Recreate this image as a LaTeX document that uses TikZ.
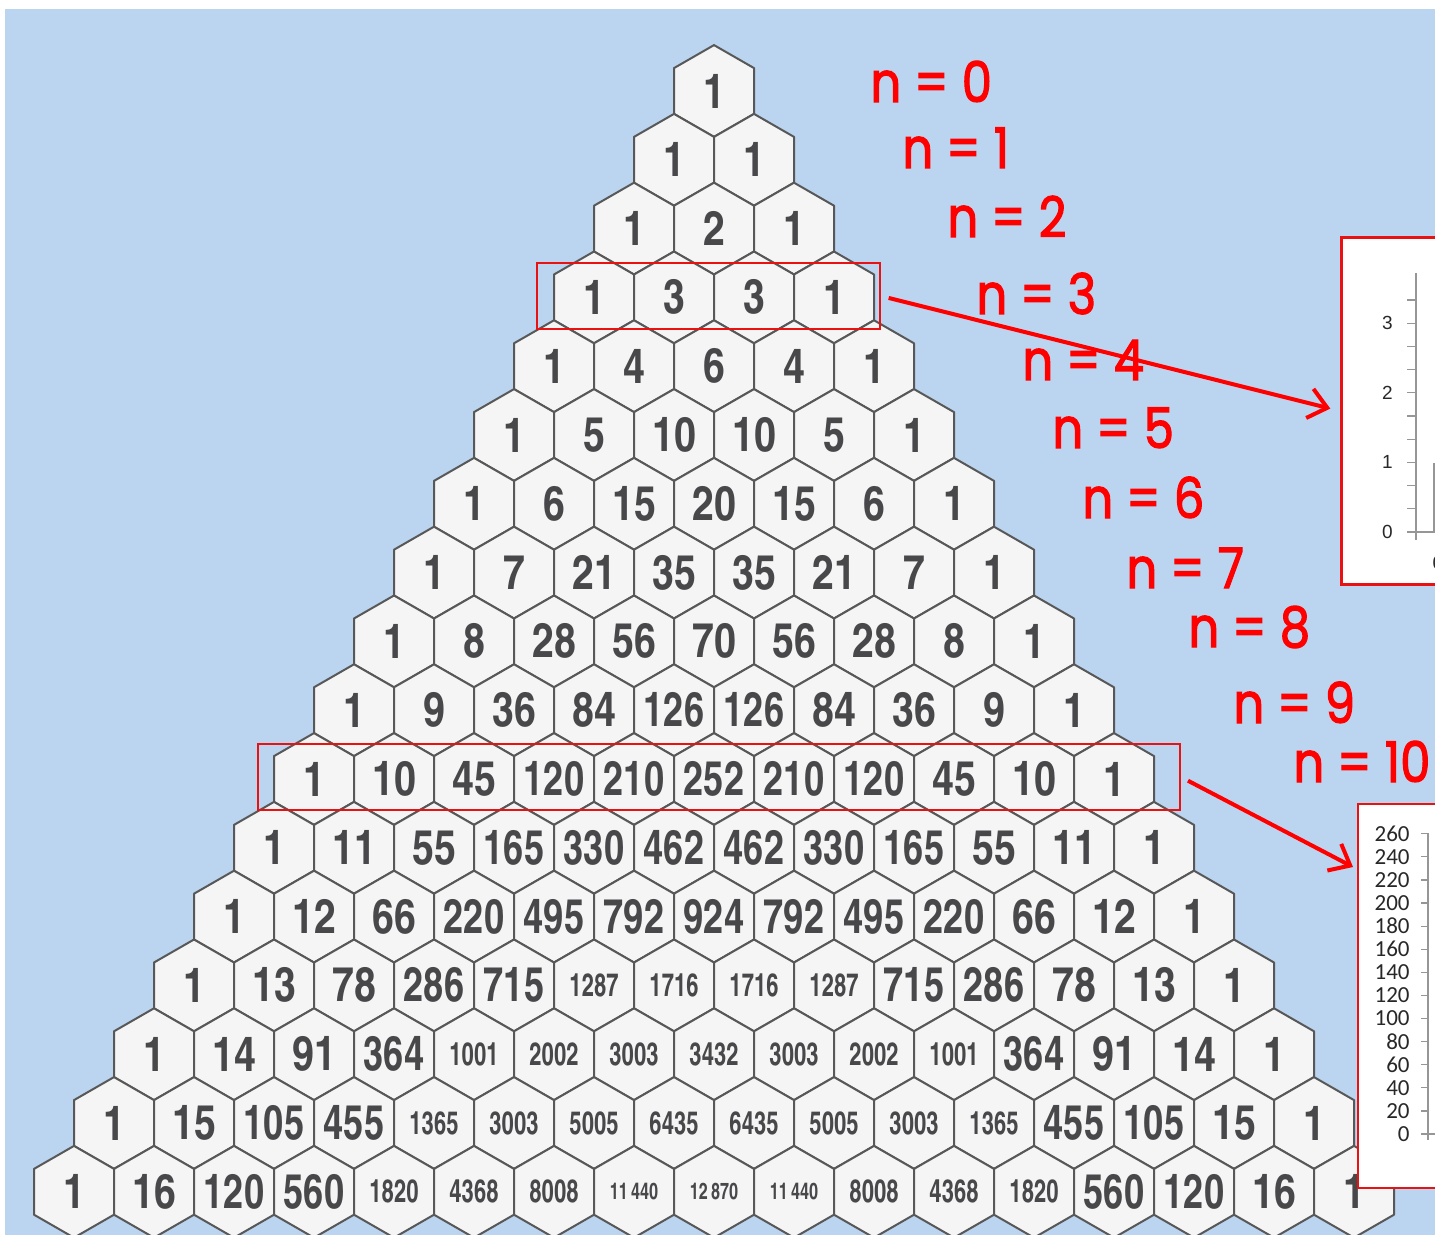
\documentclass[tikz,border=0pt]{standalone}
\usepackage{fontspec}
\usepackage{graphicx}
\usetikzlibrary{arrows.meta,calc}
\newfontfamily\hexfont{texgyreheroscn-bold.otf}
\newfontfamily\labfont{Poppins}[FakeBold=2.2]
\newfontfamily\axfontA{Liberation Sans}
\newfontfamily\axfontB{Carlito}
\definecolor{bgblue}{RGB}{187,212,239}
\definecolor{hexfill}{RGB}{245,245,246}
\definecolor{hexline}{RGB}{88,88,88}
\definecolor{numgray}{RGB}{72,72,74}
\definecolor{labred}{RGB}{255,0,0}
\definecolor{boxred}{RGB}{232,18,18}
\definecolor{axisgray}{RGB}{150,150,150}
\definecolor{axtext}{RGB}{40,40,40}
\newcommand\hexnum[1]{%
  \ifnum#1>9999
    {\fontsize{11.5}{11.5}\selectfont\scalebox{0.86}[1]{\the\numexpr(#1-500)/1000\relax\,\the\numexpr#1-1000*((#1-500)/1000)\relax}}%
  \else\ifnum#1>999
    {\fontsize{16}{16}\selectfont\scalebox{0.84}[1]{#1}}%
  \else\ifnum#1>99
    {\fontsize{24}{24}\selectfont\scalebox{0.92}[1]{#1}}%
  \else
    {\fontsize{24}{24}\selectfont #1}%
  \fi\fi\fi}
\newcommand\nlabtext[1]{\scalebox{0.86}[1]{#1}}
\begin{document}
\begin{tikzpicture}[x=0.5pt,y=-0.5pt,
  hexcell/.style={draw=hexline,fill=hexfill,line width=1pt,line join=round},
  num/.style={inner sep=0pt,text=numgray,font=\hexfont},
  redrect/.style={draw=boxred,line width=0.9pt,inner sep=0pt,minimum height=33pt},
  chartbox/.style={draw=boxred,fill=white,inner sep=0pt,anchor=north west},
  redarrow/.style={draw=labred,line width=2pt,-{Straight Barb[length=9pt,width=15pt]}},
  nlab/.style={anchor=base west,inner sep=0pt,text=labred,font=\labfont\fontsize{28}{28}\selectfont},
  axl/.style={axisgray,line width=0.6pt},
  axtA/.style={anchor=east,inner sep=0pt,text=axtext,font=\axfontA\fontsize{9.5}{9.5}\selectfont},
  axtB/.style={anchor=east,inner sep=0pt,text=axtext,font=\axfontB\fontsize{11.5}{11.5}\selectfont}]
\useasboundingbox (0,0) rectangle (1435,1235);
\clip (0,0) rectangle (1435,1235);
\fill[white] (0,0) rectangle (1435,1235);
\fill[bgblue] (5,9) rectangle (1435,1235);
% Pascal triangle
\foreach \r/\vals in {
  0/{1},
  1/{1,1},
  2/{1,2,1},
  3/{1,3,3,1},
  4/{1,4,6,4,1},
  5/{1,5,10,10,5,1},
  6/{1,6,15,20,15,6,1},
  7/{1,7,21,35,35,21,7,1},
  8/{1,8,28,56,70,56,28,8,1},
  9/{1,9,36,84,126,126,84,36,9,1},
  10/{1,10,45,120,210,252,210,120,45,10,1},
  11/{1,11,55,165,330,462,462,330,165,55,11,1},
  12/{1,12,66,220,495,792,924,792,495,220,66,12,1},
  13/{1,13,78,286,715,1287,1716,1716,1287,715,286,78,13,1},
  14/{1,14,91,364,1001,2002,3003,3432,3003,2002,1001,364,91,14,1},
  15/{1,15,105,455,1365,3003,5005,6435,6435,5005,3003,1365,455,105,15,1},
  16/{1,16,120,560,1820,4368,8008,11440,12870,11440,8008,4368,1820,560,120,16,1}}{
  \foreach \v [count=\k from 0] in \vals {
    \pgfmathsetmacro\cx{714+(\k-\r/2)*80}
    \pgfmathsetmacro\cy{91+\r*68.8}
    \draw[hexcell] (\cx,\cy) +(0,-45.9) -- +(40,-22.9) -- +(40,22.9) -- +(0,45.9) -- +(-40,22.9) -- +(-40,-22.9) -- cycle;
    \node[num] (h\r-\k) at (\cx,\cy) {\hexnum{\v}};
  }
}
% row frames
\node[redrect,minimum width=171.5pt] (r3) at (708.5,296) {};
\node[redrect,minimum width=461pt] (r10) at (719,777) {};
% labels
\node[nlab] (n0) at (870,102) {\nlabtext{n = 0}};
\node[nlab] (n1) at (902,168) {\nlabtext{n = 1}};
\node[nlab] (n2) at (947,237) {\nlabtext{n = 2}};
\node[nlab] (n3) at (976,314) {\nlabtext{n = 3}};
\node[nlab] (n4) at (1022,380) {\nlabtext{n = 4}};
\node[nlab] (n5) at (1052,448) {\nlabtext{n = 5}};
\node[nlab] (n6) at (1082,518) {\nlabtext{n = 6}};
\node[nlab] (n7) at (1126,588) {\nlabtext{n = 7}};
\node[nlab] (n8) at (1188,647) {\nlabtext{n = 8}};
\node[nlab] (n9) at (1233,723) {\nlabtext{n = 9}};
\node[nlab] (n10) at (1293,782) {\nlabtext{n = 10}};
% chart 1
\node[chartbox,line width=1.5pt,minimum width=80pt,minimum height=173.5pt] (c1) at (1340,236) {};
\draw[axl] (1416,273) -- (1416,540);
\foreach \i in {0,...,10} \draw[axl] (1407,532-\i*23.2) -- (1416,532-\i*23.2);
\draw[axl] (1407,532) -- (1440,532);
\draw[axl] (1434,463) -- (1434,532);
\foreach \t in {0,1,2,3} \node[axtA] (ya\t) at (1393,532-\t*69.6) {\t};
\node[axtA,anchor=center] (xa0) at (1438,563) {0};
% chart 2
\node[chartbox,line width=1pt,minimum width=100pt,minimum height=192pt] (c2) at (1357,803) {};
\draw[axl] (1428,833) -- (1428,1140);
\foreach \i in {0,...,13} {
  \draw[axl] (1421,1134-\i*23.1) -- (1428,1134-\i*23.1);
  \pgfmathtruncatemacro\lab{20*\i}
  \node[axtB] (yb\i) at (1410,1134-\i*23.1) {\lab};
}
\draw[axl] (1421,1134) -- (1440,1134);
% arrows
\coordinate (a2) at ($(c2.north west)+(-4,64)$);
\draw[redarrow,shorten <=4pt,shorten >=5pt] (r3.east) -- (c1.west);
\draw[redarrow,shorten <=4pt] (r10.east) -- (a2);
\end{tikzpicture}
\end{document}
